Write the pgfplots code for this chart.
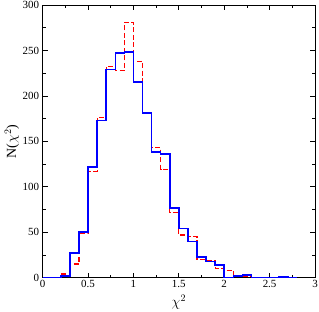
\documentclass[border=0pt]{standalone}
\usepackage{fontspec}
\setmainfont{Liberation Serif}
\usepackage{pgfplots}
\pgfplotsset{compat=1.18}
\begin{document}
\begin{tikzpicture}[x=1bp,y=1bp]
\begin{axis}[
  at={(0,0)}, anchor=south west,
  scale only axis,
  width=272.3bp, height=272.7bp,
  xmin=0, xmax=3, ymin=0, ymax=300,
  xtick={0,0.5,...,3}, ytick={0,50,...,300},
  minor xtick={0.25,0.75,...,2.75}, minor ytick={25,75,...,275},
  xticklabels={0,0.5,1,1.5,2,2.5,3},
  tick align=inside, tick pos=both,
  major tick length=5bp, minor tick length=3bp,
  tick style={black, line width=0.8pt},
  axis line style={line width=0.8pt},
  /pgf/number format/assume math mode=true,
  ticklabel style={font=\fontsize{11}{13}\selectfont},
  xticklabel style={yshift=1bp},
  xlabel={$\chi^2$}, ylabel={N($\chi^2$)},
  label style={font=\fontsize{14}{16}\selectfont},
  xlabel style={at={(axis description cs:0.5,0)}, anchor=north, yshift=-14bp},
  ylabel style={at={(axis description cs:0,0.5)}, anchor=south, yshift=20bp},
  clip=false,
]
\addplot[const plot, red, line width=1.3pt, dash pattern=on 5pt off 2.5pt] coordinates {
(0,0) (0.1,0) (0.2,4) (0.3,15) (0.4,49) (0.5,117) (0.6,176) (0.7,232) (0.8,228) (0.9,281)
(1.0,238) (1.1,181) (1.2,143) (1.3,119) (1.4,72) (1.5,47) (1.6,45) (1.7,20) (1.8,19) (1.9,10)
(2.0,8) (2.1,1) (2.2,1) (2.3,0.5) (2.4,0) (2.5,0) (2.6,0) (2.7,0) (2.8,0)
};
\addplot[const plot, blue, line width=1.6pt] coordinates {
(0,0) (0.1,0) (0.2,2) (0.3,27) (0.4,50) (0.5,122) (0.6,173) (0.7,229) (0.8,247) (0.9,248)
(1.0,215) (1.1,181) (1.2,138) (1.3,136) (1.4,77) (1.5,54) (1.6,40) (1.7,23) (1.8,18) (1.9,14)
(2.0,0) (2.1,2) (2.2,3) (2.3,0) (2.4,0) (2.5,0) (2.6,1) (2.7,0) (2.8,0)
};
\end{axis}
\pgfresetboundingbox
\path[use as bounding box] (-42.7bp,-34.3bp) rectangle (276.3bp,277.7bp);
\end{tikzpicture}
\end{document}
